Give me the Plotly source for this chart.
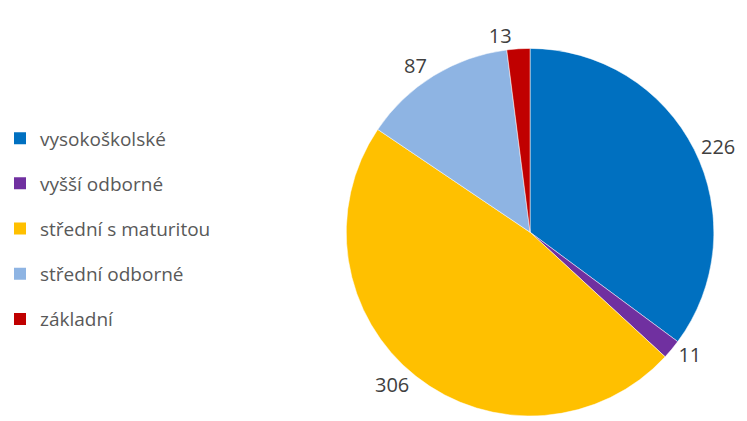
import plotly.graph_objects as go

categories = ["vysokoškolské", "vyšší odborné", "střední s maturitou", "střední odborné", "základní"]
values = [226, 11, 306, 87, 13]
colors = ["#0070C0", "#7030A0", "#FFC000", "#8EB4E3", "#C00000"]

fig = go.Figure()
fig.add_trace(go.Pie(
    labels=categories, values=values, sort=False, direction="clockwise", rotation=0,
    marker=dict(colors=colors, line=dict(color="white", width=0.5)),
    textinfo="value", textposition="outside",
    textfont=dict(family="Open Sans", size=20, color="#404040"),
    showlegend=False, hoverinfo="label+value",
    domain=dict(x=[340/747, 716/747], y=[0, 372/421]),
))
for i, (c, col) in enumerate(zip(categories, colors)):
    fig.add_trace(go.Scatter(
        x=[None], y=[None], mode="markers", name=c, legendgroup=str(i),
        marker=dict(symbol="square", size=12, color=col), showlegend=True,
    ))

fig.update_layout(
    width=747, height=421, margin=dict(l=0, r=0, t=0, b=0),
    paper_bgcolor="white", plot_bgcolor="white",
    xaxis=dict(visible=False), yaxis=dict(visible=False),
    legend=dict(x=-0.01, y=0.45, xanchor="left", yanchor="middle",
                font=dict(family="Open Sans", size=19, color="#595959"),
                tracegroupgap=17.5, itemwidth=30, bgcolor="rgba(0,0,0,0)"),
)
fig.write_html("out.html")
